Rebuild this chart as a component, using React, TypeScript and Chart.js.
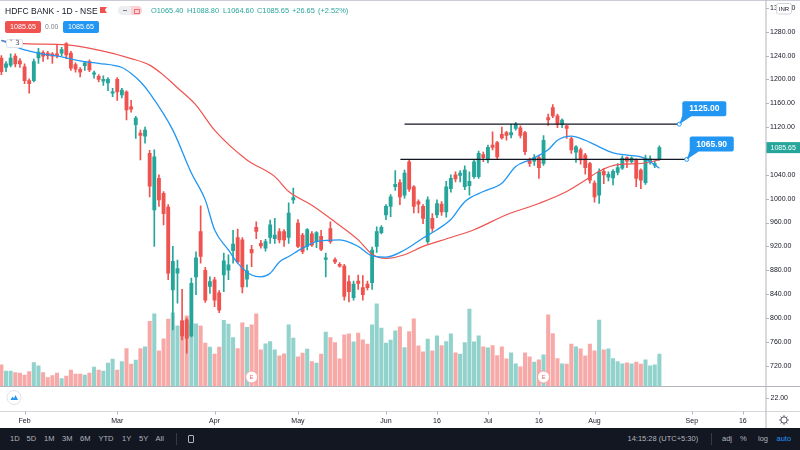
import React, { useEffect, useRef } from 'react';
import { Chart, registerables } from 'chart.js';

Chart.register(...registerables);

const FONT = '"Liberation Sans", Arial, sans-serif';

// ---- OHLC (daily candles, Jan 27 .. Aug 21) ----
const opens = [1236,1220,1224,1239,1231,1221,1198,1198,1236,1245,1244,1243,1243,1244,1260,1244,1225,1217,1223,1230,1209,1205,1197,1194,1177,1200,1174,1179,1154,1124,1110,1105,1076,981,1034,1009,986,847,875,795,797,770,869,945,880,853,864,842,872,880,913,935,931,865,915,952,925,917,935,933,945,945,935,998,959,939,920,941,928,937,898,950,898,890,887,861,834,862,851,857,859,920,943,973,987,1020,1027,1006,1062,1020,995,987,928,967,973,991,978,1017,1040,1039,1020,1022,1037,1037,1074,1065,1090,1094,1108,1111,1107,1118,1119,1111,1065,1063,1069,1059,1136,1153,1139,1124,1122,1101,1078,1082,1073,1059,1026,1006,1046,1036,1035,1044,1051,1069,1062,1065,1048,1027,1063,1056,1065.4];
const highs = [1240,1230,1243,1243,1235,1226,1201,1234,1252,1248,1247,1245,1258,1254,1262,1247,1228,1220,1230,1233,1214,1208,1206,1203,1185,1203,1185,1181,1165,1138,1115,1120,1081,1082,1040,1012,990,920,897,848,800,867,911,988,885,869,868,846,909,906,947,949,935,889,922,961,930,932,964,967,950,948,993,1018,965,942,950,945,945,947,909,961,901,893,890,871,862,872,871,862,919,953,955,990,1007,1047,1032,1048,1065,1022,998,990,1003,975,998,995,1029,1040,1045,1047,1055,1045,1065,1080,1078,1090,1112,1096,1120,1113,1125,1128,1122,1113,1068,1074,1073,1106,1142,1158,1142,1134,1123,1103,1089,1085,1076,1061,1030,1050,1050,1045,1049,1059,1072,1070,1070,1067,1050,1073,1072,1063,1088.8];
const lows = [1208,1213,1221,1221,1220,1193,1177,1196,1227,1230,1234,1227,1236,1240,1235,1215,1212,1204,1215,1213,1202,1196,1190,1181,1171,1165,1169,1132,1145,1101,1065,1093,1003,920,987,956,864,780,825,763,741,768,839,892,826,841,819,809,844,864,892,892,842,852,886,933,917,912,925,925,926,920,925,992,918,908,914,920,918,913,869,925,891,885,830,827,830,848,830,847,848,910,941,965,970,1014,990,1001,1012,976,976,958,925,945,968,972,969,1011,1028,1028,1015,1006,1034,1034,1062,1060,1082,1066,1100,1098,1102,1115,1102,1074,1054,1056,1034,1056,1123,1136,1119,1119,1101,1076,1061,1058,1041,1026,994,992,1025,1030,1023,1040,1049,1052,1060,1020,1017,1024,1058,1052,1064.6];
const closes = [1213,1226,1236,1226,1226,1198,1193,1230,1246,1239,1240,1239,1240,1250,1241,1219,1217,1212,1228,1216,1211,1200,1200,1200,1179,1179,1182,1149,1150,1135,1106,1115,1021,1070,998,975,875,895,883,770,766,858,901,903,830,861,830,813,896,889,924,894,852,879,909,945,921,928,956,939,931,931,976,1002,920,911,948,922,943,915,901,928,894,887,836,844,857,858,839,851,914,945,952,987,1003,1024,1003,1043,1016,987,991,967,998,950,992,978,1020,1034,1033,1043,1048,1029,1062,1076,1069,1086,1086,1070,1102,1106,1111,1125,1106,1079,1059,1069,1052,1098,1132,1139,1125,1132,1118,1082,1087,1065,1052,1031,1003,1045,1040,1041,1046,1052,1068,1063,1068,1034,1031,1068,1067,1059,1085.65];
// volume (millions of shares, estimated)
const volumes = [10.5,7.5,7.5,6.7,6.4,5.5,7.2,11.7,10,6.7,4.2,5.2,6.4,3.7,5,8,5.9,5.9,5.5,6.4,9.4,8,7.5,11.4,13.4,8,12.2,18.7,10.9,12.9,18.7,19.5,32.2,36,17.5,23.5,33.4,36.5,30,32.5,35,31,31,30,21.4,19.4,15.9,19.4,32.7,30.9,24.2,18.7,31.5,29.2,30.5,36,18,21,22.2,18,15,16,30.5,23.9,14.5,16.4,18.4,12.2,11.4,15.9,26.9,24.2,21.7,13.5,25.5,26,22,26.4,23,20.9,30.5,41,28.9,21.4,22.9,27.5,29.5,19.2,27.2,33.5,20,17,23.4,17.5,25,20.2,22.2,26,16.5,15.9,21.7,38.4,22,25,19.5,19,20.2,15.2,19.5,13.5,16.5,11,9.5,16.5,14.5,11.9,13,15.5,35.5,26.2,13.7,11,10.9,20.9,19.5,18.5,15,20.9,17.5,32.9,18,18.5,13.7,12.2,11,11.5,11,11.9,10.9,13,10,10.5,15.9];

// moving averages (bar index, price)
const fastMaIdx = [0,4,8,13,17,21,26,28,30,32,37,41,44,46,49,51,54,56,58,60,62,65,68,73,77,80,83,87,91,94,97,100,104,108,111,114,118,120,123,126,129,132,135,138,141,142];
const fastMaVal = [1266,1252,1244,1238,1231,1227,1220,1210,1196,1177,1115,1043,998,948,914,892,872,869,875,894,903,917,928,931,920,904,902,914,934,948,965,995,1012,1026,1054,1065,1082,1098,1105,1098,1087,1077,1073,1070,1057,1051];
const slowMaIdx = [0,5,14,21,28,32,35,38,42,46,53,59,62,67,72,77,80,83,87,91,97,102,109,116,122,126,129,133,138,142];
const slowMaVal = [1265,1260,1258,1249,1235,1224,1207,1186,1157,1115,1065,1037,1012,989,961,931,907,900,906,920,935,948,973,992,1012,1031,1046,1057,1059,1065];

// horizontal trend lines
const trendPrices = [1125.0, 1065.9];
const trendFrom = [87, 86.1];
const trendTo = [146.3, 147.9];

// earnings events (bar index)
const earningsIdx = [54, 117];

// axes
const xTickIdx = [5, 25, 46, 64, 83, 94, 105, 116, 128, 149, 160];
const xTickLabels = ['Feb', 'Mar', 'Apr', 'May', 'Jun', '16', 'Jul', '16', 'Aug', 'Sep', '16'];
const priceTicks = [720, 760, 800, 840, 880, 920, 960, 1000, 1040, 1080, 1120, 1160, 1200, 1240, 1280, 1320];
const lastPrice = 1085.65;

const UP = '#26a69a';
const DOWN = '#ef5350';
const UP_VOL = 'rgba(38,166,154,0.5)';
const DOWN_VOL = 'rgba(239,83,80,0.5)';

const X_MIN = -0.3;
const X_MAX = 164.9;
const Y_MIN = 685.9;
const Y_MAX = 1333.2;

function roundRect(ctx: CanvasRenderingContext2D, x: number, y: number, w: number, h: number, r: number) {
  ctx.beginPath();
  ctx.moveTo(x + r, y);
  ctx.lineTo(x + w - r, y);
  ctx.quadraticCurveTo(x + w, y, x + w, y + r);
  ctx.lineTo(x + w, y + h - r);
  ctx.quadraticCurveTo(x + w, y + h, x + w - r, y + h);
  ctx.lineTo(x + r, y + h);
  ctx.quadraticCurveTo(x, y + h, x, y + h - r);
  ctx.lineTo(x, y + r);
  ctx.quadraticCurveTo(x, y, x + r, y);
  ctx.closePath();
}

const overlayPlugin = {
  id: 'tvOverlay',
  afterDatasetsDraw(chart: any) {
    const { ctx, scales } = chart;
    const xs = scales.x;
    const ys = scales.y;
    ctx.save();
    // earnings markers
    earningsIdx.forEach((i) => {
      const px = xs.getPixelForValue(i);
      const py = 377;
      ctx.beginPath();
      ctx.arc(px, py, 6, 0, Math.PI * 2);
      ctx.fillStyle = '#ffffff';
      ctx.fill();
      ctx.strokeStyle = '#f4a3a3';
      ctx.lineWidth = 1;
      ctx.stroke();
      ctx.fillStyle = '#e57373';
      ctx.font = `6px ${FONT}`;
      ctx.textAlign = 'center';
      ctx.textBaseline = 'middle';
      ctx.fillText('E', px, py + 0.5);
    });
    // trend line callouts
    trendPrices.forEach((p, k) => {
      const ex = xs.getPixelForValue(trendTo[k]);
      const ey = ys.getPixelForValue(p);
      const bx = ex + 3;
      const by = ey - 23;
      const bw = 44;
      const bh = 15;
      ctx.fillStyle = '#2196f3';
      roundRect(ctx, bx, by, bw, bh, 2);
      ctx.fill();
      ctx.beginPath();
      ctx.moveTo(bx + 1, by + bh - 4);
      ctx.lineTo(bx + 9, by + bh);
      ctx.lineTo(ex, ey);
      ctx.closePath();
      ctx.fill();
      ctx.fillStyle = '#ffffff';
      ctx.font = `bold 8.5px ${FONT}`;
      ctx.textAlign = 'center';
      ctx.textBaseline = 'middle';
      ctx.fillText(p.toFixed(2), bx + bw / 2, by + bh / 2 + 0.5);
    });
    ctx.restore();
  },
  afterDraw(chart: any) {
    const { ctx, scales, chartArea } = chart;
    const xs = scales.x;
    const ys = scales.y;
    const axisX = chartArea.right + 0.5;
    ctx.save();
    // top border
    ctx.strokeStyle = '#c9ccd4';
    ctx.lineWidth = 1;
    ctx.beginPath();
    ctx.moveTo(0, 0.5);
    ctx.lineTo(800, 0.5);
    ctx.stroke();
    // pane separator
    ctx.strokeStyle = '#b2b5be';
    ctx.beginPath();
    ctx.moveTo(0, 386.5);
    ctx.lineTo(800, 386.5);
    ctx.stroke();
    ctx.strokeStyle = '#d6d8de';
    ctx.beginPath();
    ctx.moveTo(0, 411.5);
    ctx.lineTo(800, 411.5);
    ctx.stroke();
    // price axis line
    ctx.strokeStyle = '#b2b5be';
    ctx.beginPath();
    ctx.moveTo(axisX, 0);
    ctx.lineTo(axisX, 428);
    ctx.stroke();
    // price tick marks
    priceTicks.forEach((v) => {
      const py = Math.round(ys.getPixelForValue(v)) + 0.5;
      ctx.beginPath();
      ctx.moveTo(axisX, py);
      ctx.lineTo(axisX + 3, py);
      ctx.stroke();
    });
    // time tick marks
    xTickIdx.forEach((v) => {
      const px = Math.round(xs.getPixelForValue(v)) + 0.5;
      ctx.beginPath();
      ctx.moveTo(px, 411.5);
      ctx.lineTo(px, 414.5);
      ctx.stroke();
    });
    // lower pane scale label
    ctx.beginPath();
    ctx.moveTo(axisX, 398.5);
    ctx.lineTo(axisX + 3, 398.5);
    ctx.stroke();
    ctx.fillStyle = '#131722';
    ctx.font = `7px ${FONT}`;
    ctx.textAlign = 'left';
    ctx.textBaseline = 'middle';
    ctx.fillText('22.00', axisX + 4.5, 398.5);
    // TradingView logo
    ctx.beginPath();
    ctx.arc(14, 397.5, 7, 0, Math.PI * 2);
    ctx.fillStyle = '#ffffff';
    ctx.fill();
    ctx.strokeStyle = '#e0e3eb';
    ctx.stroke();
    ctx.fillStyle = '#2196f3';
    ctx.beginPath();
    ctx.moveTo(10.5, 400);
    ctx.lineTo(12.5, 396.5);
    ctx.lineTo(14, 398.5);
    ctx.lineTo(15.5, 395);
    ctx.lineTo(18, 400);
    ctx.closePath();
    ctx.fill();
    // gear
    ctx.strokeStyle = '#50535e';
    ctx.lineWidth = 1;
    ctx.beginPath();
    ctx.arc(784, 420, 3.2, 0, Math.PI * 2);
    ctx.stroke();
    for (let a = 0; a < 8; a++) {
      const ang = (a * Math.PI) / 4;
      ctx.beginPath();
      ctx.moveTo(784 + Math.cos(ang) * 3.2, 420 + Math.sin(ang) * 3.2);
      ctx.lineTo(784 + Math.cos(ang) * 4.8, 420 + Math.sin(ang) * 4.8);
      ctx.stroke();
    }
    // last price label
    const lp = ys.getPixelForValue(lastPrice);
    ctx.fillStyle = UP;
    ctx.fillRect(axisX + 0.5, lp - 5.5, 800 - axisX, 11);
    ctx.fillStyle = '#ffffff';
    ctx.font = `7px ${FONT}`;
    ctx.textAlign = 'left';
    ctx.textBaseline = 'middle';
    ctx.fillText(lastPrice.toFixed(2), axisX + 4.5, lp + 0.5);
    // currency box
    ctx.fillStyle = '#ffffff';
    roundRect(ctx, 776.5, 3.5, 15, 10.5, 2);
    ctx.fill();
    ctx.strokeStyle = '#d1d4dc';
    ctx.stroke();
    ctx.fillStyle = '#131722';
    ctx.font = `6px ${FONT}`;
    ctx.textAlign = 'center';
    ctx.fillText('INR', 784, 9);
    ctx.restore();
  },
};

export default function App() {
  const ref = useRef<HTMLCanvasElement | null>(null);

  useEffect(() => {
    if (!ref.current) return;
    const idx = closes.map((_, i) => i);
    const up = idx.map((i) => closes[i] >= opens[i]);
    const candleColors = up.map((u) => (u ? UP : DOWN));
    const volColors = up.map((u) => (u ? UP_VOL : DOWN_VOL));

    const trendSets = trendPrices.map((p, k) => ({
      type: 'line' as const,
      data: [
        { x: trendFrom[k], y: p },
        { x: trendTo[k], y: p },
      ],
      borderColor: '#131722',
      borderWidth: 1.2,
      pointRadius: [0, 2],
      pointBackgroundColor: '#ffffff',
      pointBorderColor: '#2196f3',
      pointBorderWidth: 1,
      yAxisID: 'y',
      order: 1,
    }));

    const chart = new Chart(ref.current, {
      type: 'bar',
      data: {
        datasets: [
          {
            type: 'bar',
            data: idx.map((i) => ({ x: i, y: volumes[i] })),
            backgroundColor: volColors,
            barThickness: 3.4,
            grouped: false,
            yAxisID: 'yVol',
            order: 10,
          },
          {
            type: 'bar',
            data: idx.map((i) => ({ x: i, y: [lows[i], highs[i]] })),
            backgroundColor: candleColors,
            barThickness: 1,
            grouped: false,
            yAxisID: 'y',
            order: 6,
          },
          {
            type: 'bar',
            data: idx.map((i) => ({ x: i, y: [opens[i], closes[i]] })),
            backgroundColor: candleColors,
            barThickness: 3.2,
            minBarLength: 1,
            grouped: false,
            yAxisID: 'y',
            order: 5,
          },
          {
            type: 'line',
            data: slowMaIdx.map((x, k) => ({ x, y: slowMaVal[k] })),
            borderColor: '#ef5350',
            borderWidth: 1.2,
            pointRadius: 0,
            cubicInterpolationMode: 'monotone',
            yAxisID: 'y',
            order: 3,
          },
          {
            type: 'line',
            data: fastMaIdx.map((x, k) => ({ x, y: fastMaVal[k] })),
            borderColor: '#2196f3',
            borderWidth: 1.3,
            pointRadius: 0,
            cubicInterpolationMode: 'monotone',
            yAxisID: 'y',
            order: 2,
          },
          ...trendSets,
        ] as any,
      },
      options: {
        animation: false,
        responsive: false,
        maintainAspectRatio: false,
        layout: { padding: 0, autoPadding: false },
        plugins: {
          legend: { display: false },
          tooltip: { enabled: false },
        },
        scales: {
          x: {
            type: 'linear',
            offset: false,
            min: X_MIN,
            max: X_MAX,
            grid: { display: false, drawTicks: false, offset: false },
            border: { display: false },
            ticks: {
              autoSkip: false,
              maxRotation: 0,
              padding: 31,
              color: '#131722',
              font: { size: 7, family: FONT },
              callback: (v: any) => {
                const k = xTickIdx.indexOf(Number(v));
                return k >= 0 ? xTickLabels[k] : '';
              },
            },
            afterBuildTicks: (s: any) => {
              s.ticks = xTickIdx.map((v) => ({ value: v }));
            },
            afterFit: (s: any) => {
              s.height = 42;
              s.paddingLeft = 0;
              s.paddingRight = 0;
            },
          },
          y: {
            type: 'linear',
            position: 'right',
            min: Y_MIN,
            max: Y_MAX,
            grid: { display: false, drawTicks: false },
            border: { display: false },
            ticks: {
              padding: 4.5,
              color: '#131722',
              font: { size: 7, family: FONT },
              callback: (v: any) => Number(v).toFixed(2),
            },
            afterBuildTicks: (s: any) => {
              s.ticks = priceTicks.map((v) => ({ value: v }));
            },
            afterFit: (s: any) => {
              s.width = 34.5;
              s.paddingTop = 0;
              s.paddingBottom = 0;
            },
          },
          yVol: {
            type: 'linear',
            display: false,
            min: 0,
            max: 192.5,
          },
        },
      } as any,
      plugins: [overlayPlugin],
    });
    return () => chart.destroy();
  }, []);

  const txt = (extra: React.CSSProperties): React.CSSProperties => ({
    position: 'absolute',
    whiteSpace: 'nowrap',
    lineHeight: 1,
    fontFamily: FONT,
    ...extra,
  });

  const ohlc: [string, number][] = [
    ['O1065.40', 151],
    ['H1088.80', 187],
    ['L1064.60', 223],
    ['C1085.65', 257],
    ['+26.65', 292],
    ['(+2.52%)', 318],
  ];

  const tools: [string, number][] = [
    ['1D', 10],
    ['5D', 26.5],
    ['1M', 44],
    ['3M', 62],
    ['6M', 80],
    ['YTD', 98.5],
    ['1Y', 122],
    ['5Y', 139],
    ['All', 155.6],
  ];

  return (
    <div
      style={{
        position: 'fixed',
        left: 0,
        top: 0,
        width: 800,
        height: 450,
        background: '#ffffff',
        overflow: 'hidden',
      }}
    >
      <canvas
        ref={ref}
        width={800}
        height={428}
        style={{ position: 'absolute', left: 0, top: 0, width: 800, height: 428 }}
      />
      {/* legend header */}
      <div style={txt({ left: 5, top: 6.5, fontSize: 8.5, color: '#131722' })}>HDFC BANK - 1D - NSE</div>
      <div
        style={{
          position: 'absolute',
          left: 100,
          top: 7,
          width: 7,
          height: 6,
          background: DOWN,
          clipPath: 'polygon(0 0, 100% 0, 70% 50%, 100% 100%, 0 100%)',
        }}
      />
      <div
        style={{
          position: 'absolute',
          left: 118,
          top: 6,
          width: 24,
          height: 9,
          borderRadius: 5,
          background: '#eceef2',
          overflow: 'hidden',
        }}
      >
        <div style={{ position: 'absolute', left: 5, top: 4, width: 4, height: 1.3, background: '#787b86' }} />
        <div style={{ position: 'absolute', left: 13, top: 0, width: 11, height: 9, background: '#fbd3d6' }} />
        <div
          style={{
            position: 'absolute',
            left: 16,
            top: 2.5,
            width: 4,
            height: 3,
            border: '0.8px solid #e57373',
          }}
        />
      </div>
      {ohlc.map(([t, l]) => (
        <div key={t} style={txt({ left: l, top: 7, fontSize: 7.4, color: UP })}>
          {t}
        </div>
      ))}
      {/* bid / ask */}
      <div
        style={{
          position: 'absolute',
          left: 5,
          top: 20.5,
          width: 36,
          height: 12.5,
          background: DOWN,
          borderRadius: 2,
          color: '#ffffff',
          fontSize: 7.2,
          fontFamily: FONT,
          display: 'flex',
          alignItems: 'center',
          justifyContent: 'center',
        }}
      >
        1085.65
      </div>
      <div style={txt({ left: 45, top: 23.5, fontSize: 6.8, color: '#787b86' })}>0.00</div>
      <div
        style={{
          position: 'absolute',
          left: 63,
          top: 20.5,
          width: 36,
          height: 12.5,
          background: '#2196f3',
          borderRadius: 2,
          color: '#ffffff',
          fontSize: 7.2,
          fontFamily: FONT,
          display: 'flex',
          alignItems: 'center',
          justifyContent: 'center',
        }}
      >
        1085.65
      </div>
      {/* collapse toggle */}
      <div
        style={{
          position: 'absolute',
          left: 6,
          top: 38.5,
          width: 17,
          height: 9,
          background: '#ffffff',
          border: '0.8px solid #e0e3eb',
          borderRadius: 2,
          boxSizing: 'border-box',
          fontFamily: '"DejaVu Sans", sans-serif',
          fontSize: 7,
          color: '#50535e',
          display: 'flex',
          alignItems: 'center',
          justifyContent: 'center',
          lineHeight: 1,
        }}
      >
        {'\u02C5 3'}
      </div>
      {/* bottom toolbar */}
      <div style={{ position: 'absolute', left: 0, top: 428, width: 800, height: 22, background: '#131722' }}>
        {tools.map(([t, l]) => (
          <div key={t} style={txt({ left: l, top: 7.3, fontSize: 7.5, color: '#b2b5be' })}>
            {t}
          </div>
        ))}
        <div style={{ position: 'absolute', left: 176, top: 5, width: 1, height: 12, background: '#363a45' }} />
        <div
          style={{
            position: 'absolute',
            left: 187.5,
            top: 6.5,
            width: 6,
            height: 8,
            border: '1px solid #b2b5be',
            borderRadius: 1,
            boxSizing: 'border-box',
          }}
        />
        <div style={txt({ left: 627.5, top: 7.3, fontSize: 7.5, color: '#b2b5be' })}>14:15:28 (UTC+5:30)</div>
        <div style={{ position: 'absolute', left: 711, top: 5, width: 1, height: 12, background: '#363a45' }} />
        <div style={txt({ left: 722, top: 7.3, fontSize: 7.5, color: '#b2b5be' })}>adj</div>
        <div style={txt({ left: 740, top: 7.3, fontSize: 7.5, color: '#b2b5be' })}>%</div>
        <div style={txt({ left: 758, top: 7.3, fontSize: 7.5, color: '#b2b5be' })}>log</div>
        <div style={txt({ left: 776.5, top: 7.3, fontSize: 7.5, color: '#2196f3' })}>auto</div>
      </div>
    </div>
  );
}
